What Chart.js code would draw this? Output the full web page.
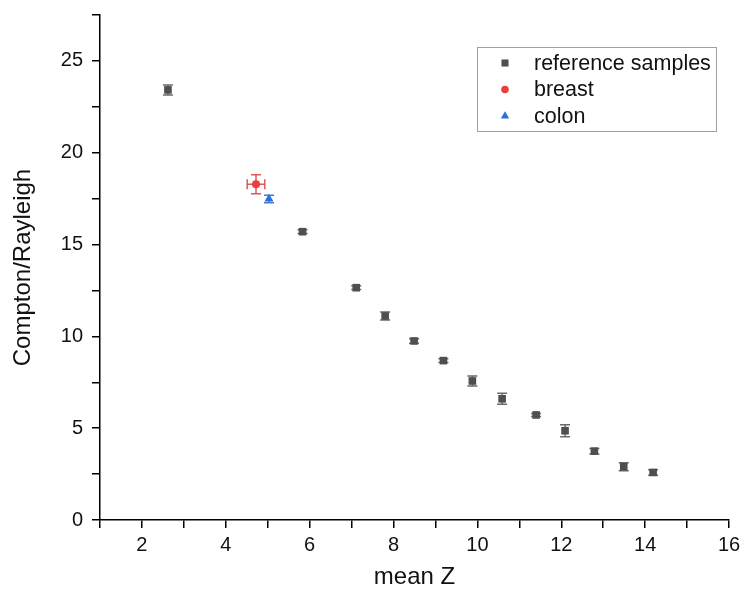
<!DOCTYPE html>
<html>
<head>
<meta charset="utf-8">
<title>Compton/Rayleigh vs mean Z</title>
<script src="https://cdn.jsdelivr.net/npm/chart.js@4.4.1/dist/chart.umd.min.js"></script>
<style>
  html, body { margin: 0; padding: 0; background: #fff; }
  #wrap { width: 742px; height: 596px; }
</style>
</head>
<body>
<div id="wrap"><canvas id="chart" width="742" height="596"></canvas></div>
<script>
// values
const refZ = [2.62, 5.83, 7.11, 7.80, 8.49, 9.19, 9.88, 10.59, 11.40, 12.09, 12.79, 13.49, 14.19];
const refRatio = [23.42, 15.70, 12.65, 11.11, 9.75, 8.68, 7.57, 6.60, 5.72, 4.86, 3.75, 2.90, 2.59];
const refRatioErr = [0.27, 0.10, 0.10, 0.22, 0.12, 0.10, 0.27, 0.30, 0.08, 0.33, 0.15, 0.22, 0.15];

const breastZ = [4.72];
const breastZErr = [0.21];
const breastRatio = [18.28];
const breastRatioErr = [0.52];

const colonZ = [5.03];
const colonRatio = [17.48];
const colonRatioErr = [0.20];

const legendLabels = ['reference samples', 'breast', 'colon'];

const FONT = '"Liberation Sans", Arial, sans-serif';

function toPoints(xs, ys) {
    return xs.map((x, i) => ({ x: x, y: ys[i] }));
}

// draws the error bars with the chart's own scales
const errorBars = {
    id: 'errorBars',
    beforeDatasetsDraw(chart) {
        const ctx = chart.ctx;
        const xs = chart.scales.x;
        const ys = chart.scales.y;
        const cap = 5;
        chart.data.datasets.forEach(ds => {
            ctx.save();
            ctx.strokeStyle = ds.errColor;
            ctx.lineWidth = 1.5;
            ds.data.forEach((p, i) => {
                const px = xs.getPixelForValue(p.x);
                const py = ys.getPixelForValue(p.y);
                if (ds.yErr) {
                    const t = ys.getPixelForValue(p.y + ds.yErr[i]);
                    const b = ys.getPixelForValue(p.y - ds.yErr[i]);
                    ctx.beginPath();
                    ctx.moveTo(px, t); ctx.lineTo(px, b);
                    ctx.moveTo(px - cap, t); ctx.lineTo(px + cap, t);
                    ctx.moveTo(px - cap, b); ctx.lineTo(px + cap, b);
                    ctx.stroke();
                }
                if (ds.xErr) {
                    const l = xs.getPixelForValue(p.x - ds.xErr[i]);
                    const r = xs.getPixelForValue(p.x + ds.xErr[i]);
                    ctx.beginPath();
                    ctx.moveTo(l, py); ctx.lineTo(r, py);
                    ctx.moveTo(l, py - cap); ctx.lineTo(l, py + cap);
                    ctx.moveTo(r, py - cap); ctx.lineTo(r, py + cap);
                    ctx.stroke();
                }
            });
            ctx.restore();
        });
    }
};

// boxed legend inside the plot, like the original
const boxLegend = {
    id: 'boxLegend',
    afterDraw(chart) {
        const ctx = chart.ctx;
        const left = 477, top = 47, w = 239, h = 84;
        ctx.save();
        ctx.strokeStyle = '#a0a0a0';
        ctx.lineWidth = 1;
        ctx.strokeRect(left + 0.5, top + 0.5, w, h);
        ctx.font = '21.5px ' + FONT;
        ctx.textBaseline = 'middle';
        ctx.textAlign = 'left';
        chart.data.datasets.forEach((ds, i) => {
            const cy = top + 16 + i * 26.5;
            const opts = {
                pointStyle: ds.pointStyle,
                radius: ds.legendRadius,
                rotation: 0,
                borderWidth: 0
            };
            ctx.fillStyle = ds.backgroundColor;
            ctx.strokeStyle = ds.backgroundColor;
            if (Chart.helpers && Chart.helpers.drawPoint) {
                Chart.helpers.drawPoint(ctx, opts, 505, cy);
            } else {
                ctx.fillRect(501, cy - 4, 8, 8);
            }
            ctx.fillStyle = '#111';
            ctx.fillText(legendLabels[i], 534, cy + 1);
        });
        ctx.restore();
    }
};

new Chart(document.getElementById('chart').getContext('2d'), {
    type: 'scatter',
    data: {
        datasets: [{
            label: legendLabels[0],
            data: toPoints(refZ, refRatio),
            yErr: refRatioErr,
            errColor: '#6a6a6a',
            pointStyle: 'rect',
            pointRadius: 5.4,
            legendRadius: 5,
            backgroundColor: '#4f4f4f',
            borderColor: '#4f4f4f',
            borderWidth: 0
        }, {
            label: legendLabels[1],
            data: toPoints(breastZ, breastRatio),
            xErr: breastZErr,
            yErr: breastRatioErr,
            errColor: '#e05858',
            pointStyle: 'circle',
            pointRadius: 4,
            legendRadius: 3.8,
            backgroundColor: '#e8403c',
            borderColor: '#e8403c',
            borderWidth: 0
        }, {
            label: legendLabels[2],
            data: toPoints(colonZ, colonRatio),
            yErr: colonRatioErr,
            errColor: '#3d7ddc',
            pointStyle: 'triangle',
            pointRadius: 5.2,
            legendRadius: 4.8,
            backgroundColor: '#2a6fdb',
            borderColor: '#2a6fdb',
            borderWidth: 0
        }]
    },
    options: {
        responsive: false,
        animation: false,
        events: [],
        layout: {
            padding: { left: 0, right: 13, top: 15, bottom: 0 }
        },
        plugins: {
            legend: { display: false },
            tooltip: { enabled: false }
        },
        scales: {
            x: {
                type: 'linear',
                min: 1,
                max: 16,
                afterFit: function(scale) {
                    scale.height = 76;
                    scale.paddingLeft = 0;
                    scale.paddingRight = 0;
                },
                ticks: {
                    stepSize: 1,
                    autoSkip: false,
                    maxRotation: 0,
                    padding: 5,
                    color: '#111',
                    font: { family: FONT, size: 20 },
                    callback: v => (v % 2 === 0 ? v : '')
                },
                grid: {
                    drawOnChartArea: false,
                    drawTicks: true,
                    tickLength: 8,
                    color: '#000',
                    lineWidth: 1.5
                },
                border: { display: true, color: '#000', width: 1.5 },
                title: {
                    display: true,
                    text: 'mean Z',
                    color: '#111',
                    font: { family: FONT, size: 24 },
                    padding: { top: 0, bottom: 4 }
                }
            },
            y: {
                type: 'linear',
                min: 0,
                max: 27.5,
                afterFit: function(scale) {
                    scale.width = 100;
                    scale.paddingTop = 0;
                    scale.paddingBottom = 0;
                },
                ticks: {
                    stepSize: 2.5,
                    autoSkip: false,
                    padding: 9,
                    color: '#111',
                    font: { family: FONT, size: 20 },
                    callback: v => (v % 5 === 0 ? v : '')
                },
                grid: {
                    drawOnChartArea: false,
                    drawTicks: true,
                    tickLength: 8,
                    color: '#000',
                    lineWidth: 1.5
                },
                border: { display: true, color: '#000', width: 1.5 },
                title: {
                    display: true,
                    text: 'Compton/Rayleigh',
                    color: '#111',
                    font: { family: FONT, size: 24 },
                    padding: { top: 9, bottom: 0 }
                }
            }
        }
    },
    plugins: [errorBars, boxLegend]
});
</script>
</body>
</html>
